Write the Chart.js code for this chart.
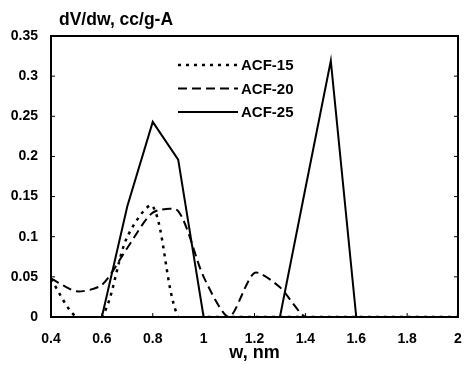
<!DOCTYPE html>
<html>
<head>
<meta charset="utf-8">
<script src="https://cdn.jsdelivr.net/npm/chart.js@4.4.0/dist/chart.umd.min.js"></script>
<style>
  body { margin: 0; background: #fff; }
  #wrap { width: 468px; height: 365px; }
</style>
</head>
<body>
<div id="wrap"><canvas id="myChart"></canvas></div>
<script>
// pore width w, nm
const widths = [0.4, 0.5, 0.6, 0.7, 0.8, 0.9, 1.0, 1.1, 1.2, 1.3, 1.4, 1.5, 1.6, 1.7, 1.8, 1.9, 2.0];
// dV/dw, cc/g-A
const acf15 = [0.047, 0, 0, 0.1, 0.138, 0, 0, 0, 0, 0, 0, 0, 0, 0, 0, 0, 0];
const acf20 = [0.048, 0.032, 0.04, 0.086, 0.13, 0.132, 0.05, 0, 0.055, 0.037, 0, 0, 0, 0, 0, 0, 0];
const acf25 = [0, 0, 0, 0.138, 0.243, 0.196, 0, 0, 0, 0, 0.16, 0.319, 0, 0, 0, 0, 0];
const seriesNames = ['ACF-15', 'ACF-20', 'ACF-25'];

const fontFamily = '"Liberation Sans", Arial, sans-serif';

// Function to pair x and y values into points
function toPoints(values) {
  return values.map((v, i) => ({ x: widths[i], y: v }));
}

// Function to format tick values like 0.35, 0.3, 1, 2
function formatTick(value) {
  return String(parseFloat(Number(value).toFixed(2)));
}

// Function to draw frame, inner tick marks, title and legend
const decorPlugin = {
  id: 'decor',
  afterDatasetsDraw(chart) {
    const { ctx, chartArea: a, scales } = chart;
    ctx.save();

    // frame
    ctx.strokeStyle = '#000';
    ctx.lineWidth = 2;
    ctx.strokeRect(a.left, a.top, a.right - a.left, a.bottom - a.top);

    // small inward tick marks
    ctx.lineWidth = 1;
    ctx.beginPath();
    scales.x.ticks.forEach(t => {
      const px = scales.x.getPixelForValue(t.value);
      ctx.moveTo(px, a.bottom); ctx.lineTo(px, a.bottom - 4);
    });
    scales.y.ticks.forEach(t => {
      const py = scales.y.getPixelForValue(t.value);
      ctx.moveTo(a.left, py); ctx.lineTo(a.left + 4, py);
      ctx.moveTo(a.right, py); ctx.lineTo(a.right - 4, py);
    });
    ctx.stroke();

    // title
    ctx.fillStyle = '#000';
    ctx.font = 'bold 17.5px ' + fontFamily;
    ctx.textBaseline = 'alphabetic';
    ctx.textAlign = 'left';
    ctx.fillText('dV/dw, cc/g-A', 59, 25);

    // legend
    chart.data.datasets.forEach((ds, i) => {
      const y = 65 + i * 23.5;
      ctx.strokeStyle = ds.borderColor;
      ctx.lineWidth = ds.borderWidth;
      ctx.setLineDash(ds.borderDash || []);
      ctx.beginPath();
      ctx.moveTo(178, y);
      ctx.lineTo(238, y);
      ctx.stroke();
      ctx.setLineDash([]);
      ctx.font = 'bold 15px ' + fontFamily;
      ctx.textBaseline = 'middle';
      ctx.fillText(ds.label, 241, y + 1);
    });

    ctx.restore();
  }
};

const data = {
  datasets: [
    {
      label: seriesNames[0],
      data: toPoints(acf15),
      borderColor: '#000',
      borderWidth: 2.5,
      borderDash: [3, 5],
      tension: 0.3,
    },
    {
      label: seriesNames[1],
      data: toPoints(acf20),
      borderColor: '#000',
      borderWidth: 2,
      borderDash: [9, 5],
      tension: 0.25,
    },
    {
      label: seriesNames[2],
      data: toPoints(acf25),
      borderColor: '#000',
      borderWidth: 2,
      tension: 0,
    },
  ]
};

const config = {
  type: 'line',
  data: data,
  options: {
    responsive: true,
    maintainAspectRatio: false,
    animation: false,
    layout: { padding: { top: 36, right: 10, left: 0, bottom: 0 } },
    elements: {
      point: { radius: 0 },
      line: { capBezierPoints: false, fill: false },
    },
    datasets: { line: { clip: 0 } },
    plugins: {
      legend: { display: false },
      title: { display: false },
      tooltip: { enabled: false },
    },
    scales: {
      x: {
        type: 'linear',
        min: 0.4,
        max: 2,
        ticks: {
          stepSize: 0.2,
          padding: 14,
          color: '#000',
          font: { family: fontFamily, size: 14, weight: 'bold' },
          callback: formatTick,
        },
        grid: { display: false, drawTicks: false },
        border: { display: false },
        title: {
          display: true,
          text: 'w, nm',
          color: '#000',
          font: { family: fontFamily, size: 18, weight: 'bold' },
          padding: { top: 0, bottom: 1 },
        },
        afterFit: scale => {
          scale.height = 48;
          scale.paddingLeft = 0;
          scale.paddingRight = 0;
        },
      },
      y: {
        min: 0,
        max: 0.35,
        ticks: {
          stepSize: 0.05,
          padding: 13,
          color: '#000',
          font: { family: fontFamily, size: 14, weight: 'bold' },
          callback: formatTick,
        },
        grid: { display: false, drawTicks: false },
        border: { display: false },
        afterFit: scale => {
          scale.width = 51;
          scale.paddingTop = 0;
          scale.paddingBottom = 0;
        },
      },
    },
  },
  plugins: [decorPlugin],
};

const myChart = new Chart('myChart', config);
</script>
</body>
</html>
